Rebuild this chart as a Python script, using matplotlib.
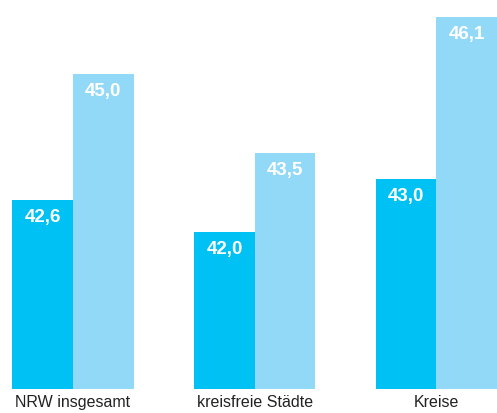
import numpy as np
import matplotlib.pyplot as plt

plt.rcParams['font.family'] = ['Liberation Sans', 'DejaVu Sans']

# data
categories = ['NRW insgesamt', 'kreisfreie Städte', 'Kreise']
values_a = [42.6, 42.0, 43.0]
values_b = [45.0, 43.5, 46.1]
labels_a = ['42,6', '42,0', '43,0']
labels_b = ['45,0', '43,5', '46,1']

color_a = '#00C1F3'
color_b = '#92D9F8'

fig = plt.figure(figsize=(4.97, 4.13), dpi=100)
ax = fig.add_axes([0, 24 / 413, 1, 389 / 413])

x = np.arange(len(categories))
w = 1 / 3
bars_a = ax.bar(x - w / 2, values_a, w, color=color_a, bottom=0)
bars_b = ax.bar(x + w / 2, values_b, w, color=color_b, bottom=0)

ax.set_ylim(39.0, 46.42)
ax.set_xlim(-0.402, 2.333)

# value labels inside the top of each bar
for bars, labs in ((bars_a, labels_a), (bars_b, labels_b)):
    for b, lab in zip(bars, labs):
        ax.annotate(lab, (b.get_x() + b.get_width() / 2, b.get_height()),
                    xytext=(0, -6.5), textcoords='offset points',
                    ha='center', va='top', color='white',
                    fontsize=13.5, fontweight='bold')

ax.set_xticks(x)
ax.set_xticklabels(categories, fontsize=11.5, color='#222222')
ax.tick_params(axis='x', length=0, pad=4.5)
ax.set_yticks([])
for s in ax.spines.values():
    s.set_visible(False)

fig.savefig('out.png', dpi=100)
